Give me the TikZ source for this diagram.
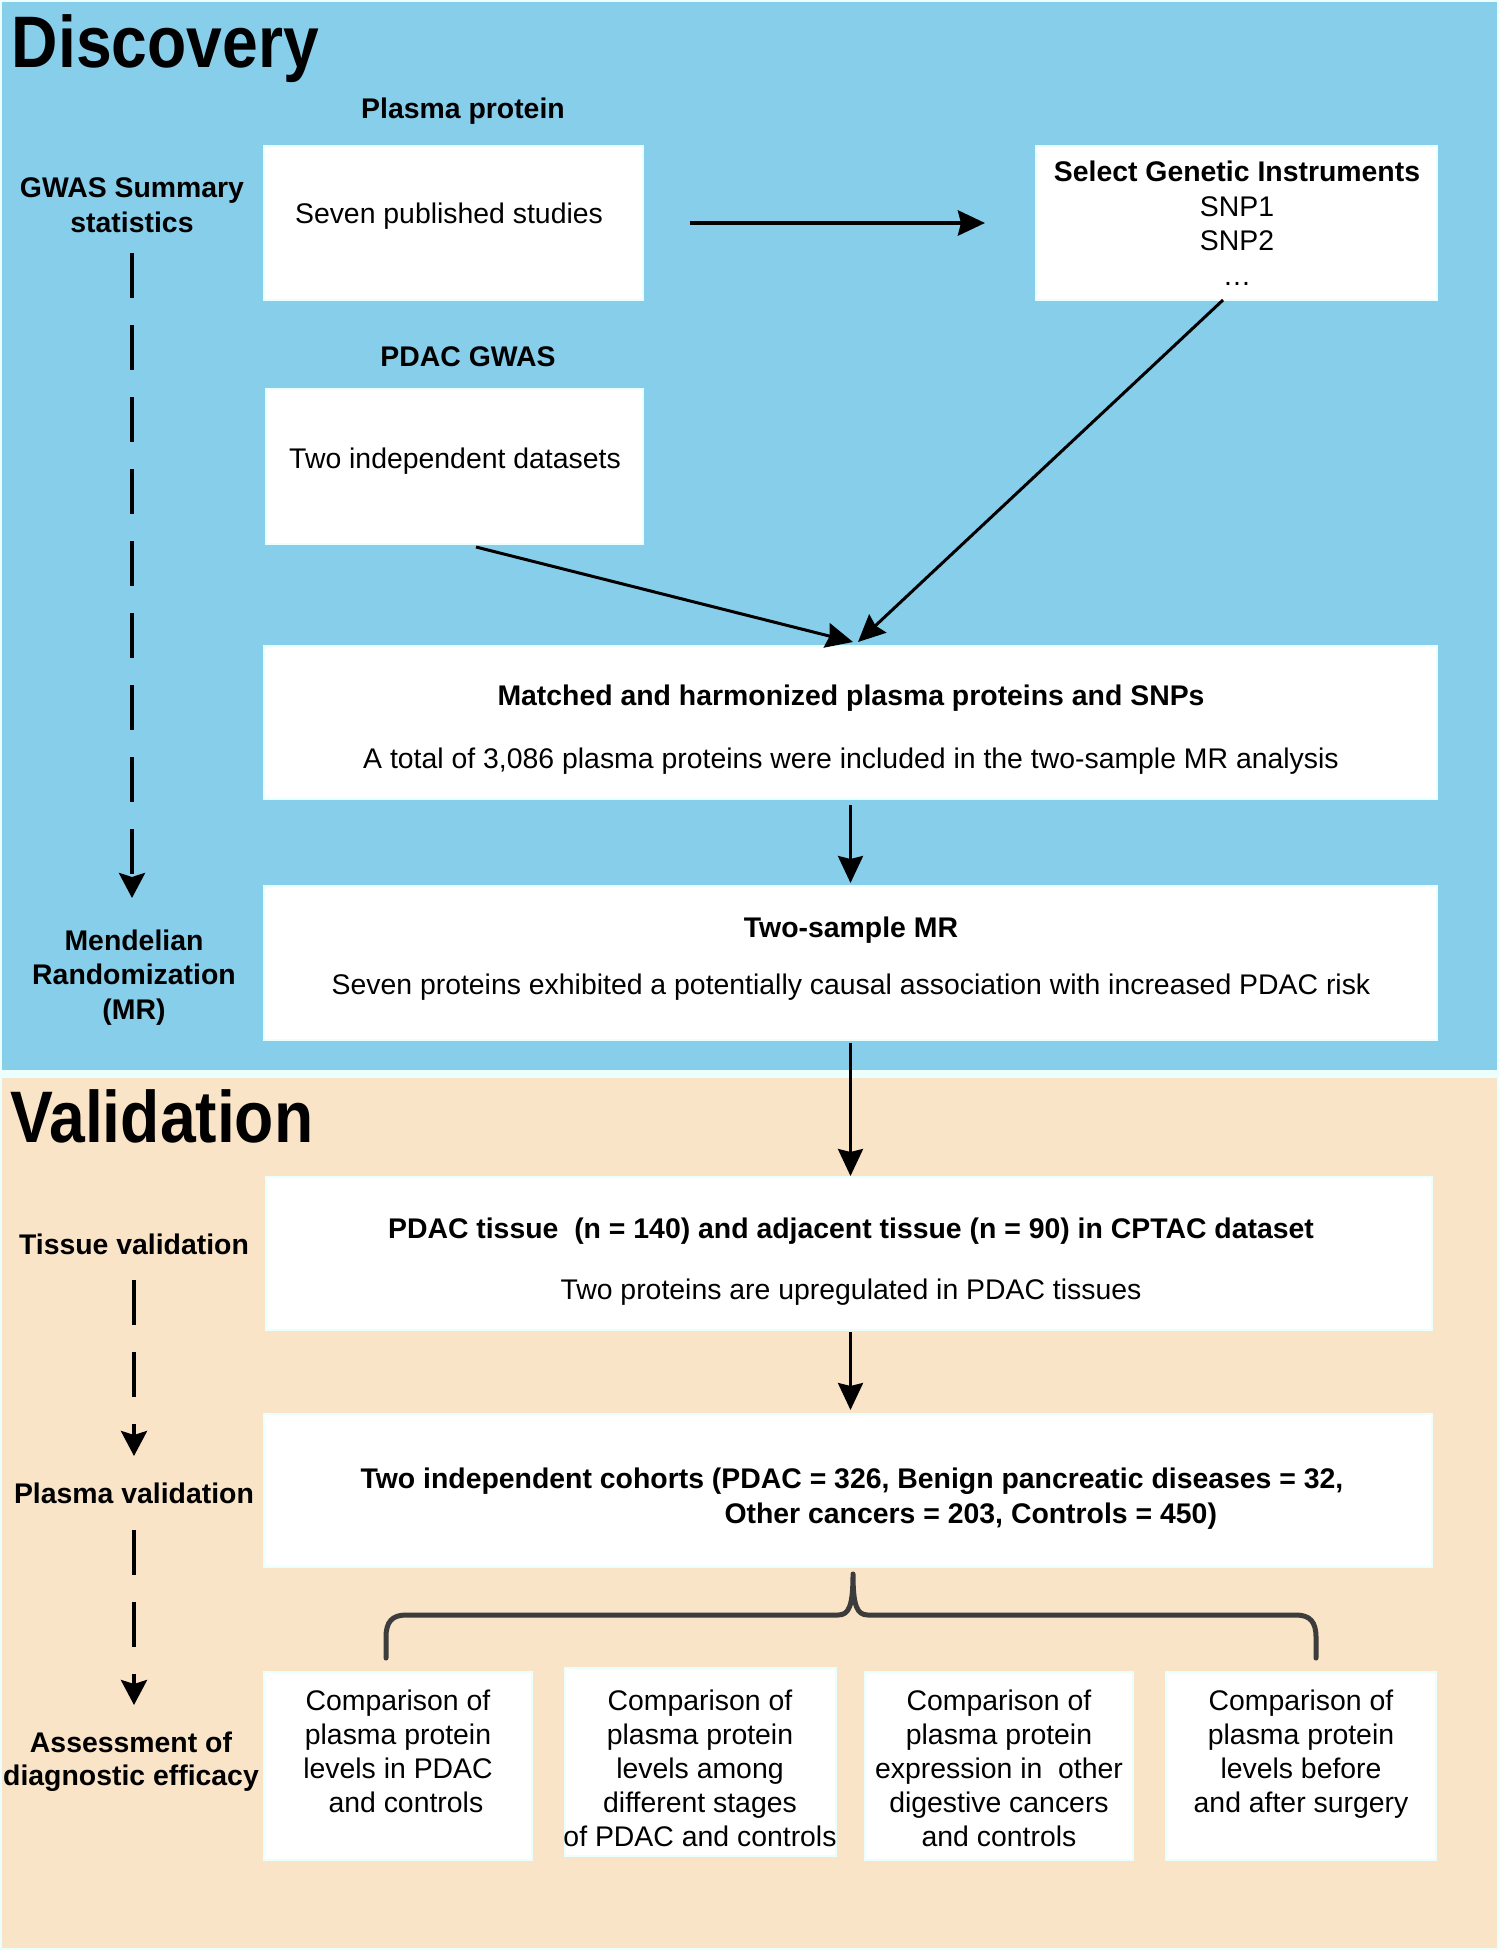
\documentclass[tikz,border=0pt]{standalone}
\usepackage{fontspec}
\setmainfont{Liberation Sans}
\newfontfamily\titlefont[FakeStretch=0.88]{Liberation Sans}
\usetikzlibrary{arrows.meta}
\definecolor{skyb}{RGB}{135,206,235}
\definecolor{beige}{RGB}{250,228,200}
\definecolor{edgec}{RGB}{236,255,255}
\definecolor{bracec}{RGB}{60,60,60}
\newcommand{\fst}{\rule{0pt}{22pt}}
\begin{document}
\begin{tikzpicture}[x=1pt,y=-1pt,
  every node/.style={inner sep=0pt, outer sep=0pt, font=\fontsize{28.4pt}{34pt}\selectfont},
  box/.style={draw=edgec, line width=2pt, fill=white, anchor=north west, rectangle},
  txt/.style={anchor=base},
  lbl/.style={anchor=base, font=\fontsize{28.4pt}{34pt}\selectfont\bfseries},
  mlbl/.style={anchor=north, align=center, font=\fontsize{28.4pt}{34.5pt}\selectfont\bfseries},
  mtxt/.style={anchor=north, align=center, font=\fontsize{28.4pt}{34pt}\selectfont},
  ttl/.style={anchor=base west, font=\fontsize{73pt}{80pt}\selectfont\titlefont\bfseries},
  arr/.style={line width=3pt, -{Stealth[length=27pt, width=25pt, inset=3pt]}},
  dasharr/.style={line width=4pt, dash pattern=on 45pt off 27pt, -{Stealth[length=25pt, width=26pt, inset=4pt]}},
  bracestyle/.style={draw=bracec, line width=5pt, line cap=round, line join=round}]
\useasboundingbox (0,0) rectangle (1499,1950);
\fill[edgec] (0,0) rectangle (1499,1950);
\fill[skyb] (2,2) rectangle (1497,1070);
\fill[beige] (2,1078) rectangle (1497,1948);

% titles
\node[ttl] (tdisc) at (12,68) {Discovery};
\node[ttl] (tval) at (10,1142) {Validation};

% left labels
\node[mlbl] (lgwas) at (132,176) {\fst GWAS Summary\\statistics};
\node[mlbl] (lmr) at (134,928) {\fst Mendelian\\Randomization\\(MR)};
\node[lbl] (ltis) at (134,1254) {Tissue validation};
\node[lbl] (lpla) at (134,1503) {Plasma validation};
\node[mlbl, font=\fontsize{28.4pt}{33pt}\selectfont\bfseries] (lass) at (131,1730) {\fst Assessment of\\diagnostic efficacy};

% section headings
\node[lbl] (hpp) at (463,119) {Plasma protein};
\node[lbl] (hpdac) at (468,366) {PDAC GWAS};

% boxes
\node[box, minimum width=379pt, minimum height=154pt] (b1) at (264,146) {};
\node[box, minimum width=401pt, minimum height=154pt] (b2) at (1036,146) {};
\node[box, minimum width=377pt, minimum height=155pt] (b3) at (266,389) {};
\node[box, minimum width=1173pt, minimum height=153pt] (b4) at (264,646) {};
\node[box, minimum width=1173pt, minimum height=154pt] (b5) at (264,886) {};
\node[box, minimum width=1166pt, minimum height=153pt] (b6) at (266,1177) {};
\node[box, minimum width=1168pt, minimum height=153pt] (b7) at (264,1414) {};
\node[box, minimum width=268pt, minimum height=188pt] (c1) at (264,1672) {};
\node[box, minimum width=271pt, minimum height=188pt] (c2) at (565,1668) {};
\node[box, minimum width=268pt, minimum height=188pt] (c3) at (865,1672) {};
\node[box, minimum width=270pt, minimum height=188pt] (c4) at (1166,1672) {};

% box texts
\node[txt] (t1) at (449,224) {Seven published studies};
\node[mtxt, font=\fontsize{28.4pt}{34.5pt}\selectfont] (t2) at (1237,160) {\fst\textbf{Select Genetic Instruments}\\SNP1\\SNP2\\…};
\node[txt] (t3) at (455,468) {Two independent datasets};
\node[lbl] (t4a) at (851,705) {Matched and harmonized plasma proteins and SNPs};
\node[txt] (t4b) at (851,768) {A total of 3,086 plasma proteins were included in the two-sample MR analysis};
\node[lbl] (t5a) at (851,937) {Two-sample MR};
\node[txt] (t5b) at (851,994) {Seven proteins exhibited a potentially causal association with increased PDAC risk};
\node[lbl] (t6a) at (851,1238) {PDAC tissue\ \ (n = 140) and adjacent tissue (n = 90) in CPTAC dataset};
\node[txt] (t6b) at (851,1299) {Two proteins are upregulated in PDAC tissues};
\node[lbl] (t7a) at (852,1488) {Two independent cohorts (PDAC = 326, Benign pancreatic diseases = 32,};
\node[lbl, anchor=base east] (t7b) at (1217,1523) {Other cancers = 203, Controls = 450)};
\node[mtxt] (tc1) at (398,1688) {\fst Comparison of\\plasma protein\\levels in PDAC\\\ \ and controls};
\node[mtxt] (tc2) at (700,1688) {\fst Comparison of\\plasma protein\\levels among\\different stages\\of PDAC and controls};
\node[mtxt] (tc3) at (999,1688) {\fst Comparison of\\plasma protein\\expression in\ \ other\\digestive cancers\\and controls};
\node[mtxt] (tc4) at (1301,1688) {\fst Comparison of\\plasma protein\\levels before\\and after surgery};

% connectors
\draw[arr, line width=4.5pt] ([xshift=47pt]b1.east) -- ([xshift=-51pt]b2.west);
\draw[arr] ([xshift=21.5pt,yshift=-3pt]b3.south) -- ([xshift=2.5pt,yshift=4pt]b4.north);
\draw[arr] ([xshift=-13.5pt]b2.south) -- ([xshift=7.5pt,yshift=4pt]b4.north);
\draw[arr] ([yshift=-6pt]b4.south) -- ([yshift=3pt]b5.north);
\draw[arr] ([yshift=-3pt]b5.south) -- ([yshift=1pt]b5.south |- b6.north);
\draw[arr] ([yshift=-2pt]b5.south |- b6.south) -- ([yshift=4pt]b5.south |- b7.north);

% dashed flow on the left
\coordinate (d1s) at (132,253);
\coordinate (d1e) at (132,898);
\coordinate (d2s) at (134,1280);
\coordinate (d2e) at (134,1456);
\coordinate (d3s) at (134,1530);
\coordinate (d3e) at (134,1705);
\draw[dasharr] (d1s) -- (d1e);
\draw[dasharr] (d2s) -- (d2e);
\draw[dasharr] (d3s) -- (d3e);

% brace
\coordinate (bl) at (386,1658);
\coordinate (br) at (1316,1658);
\coordinate (bp) at (853,1574);
\draw[bracestyle] (bl) -- (386,1637) .. controls (386,1622) and (392,1615) .. (406,1615)
  -- (838,1615) .. controls (849,1615) and (853,1606) .. (bp)
  .. controls (853,1606) and (857,1615) .. (868,1615)
  -- (1296,1615) .. controls (1310,1615) and (1316,1622) .. (1316,1637) -- (br);
\end{tikzpicture}
\end{document}
